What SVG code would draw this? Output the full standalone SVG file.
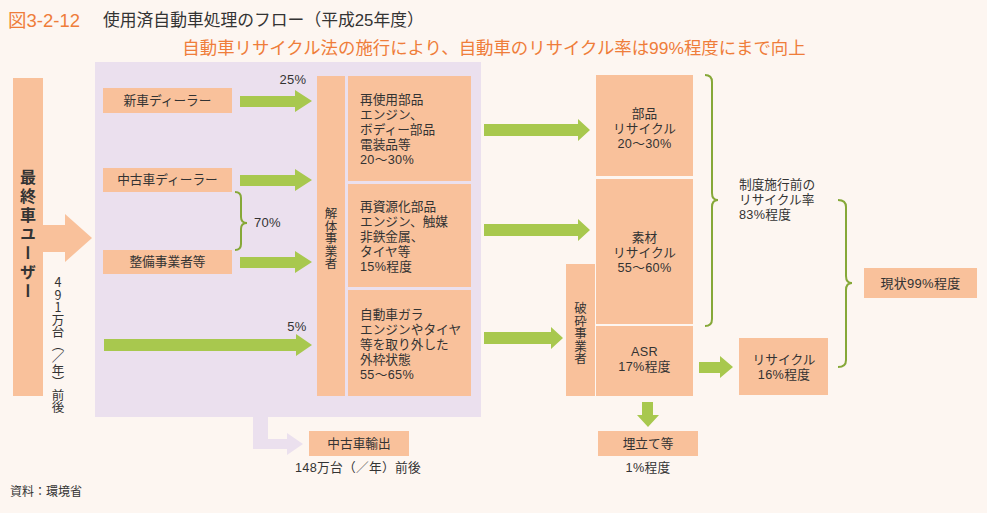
<svg xmlns="http://www.w3.org/2000/svg" width="987" height="513" viewBox="0 0 987 513">
<defs>
<style>
text{font-family:"Liberation Sans","Noto Sans CJK JP",sans-serif;fill:#333;font-size:12.7px;dominant-baseline:central}
.box{fill:#f9c19b}
.ga{fill:#a8c84e}
.pa{fill:#ebe0ee}
.br{fill:none;stroke:#86a838;stroke-width:2}
.c{text-anchor:middle}
.vt{writing-mode:vertical-rl;text-orientation:upright;font-family:"Noto Sans CJK JP",sans-serif}
.org{fill:#ef7d3a}
.n{letter-spacing:0.3px}
</style>
</defs>
<rect x="0" y="0" width="987" height="513" fill="#fdf6f1"/>
<g id="titles">
<text x="8" y="20" class="org" style="font-size:18.5px">図3-2-12</text>
<text x="103" y="20" style="font-size:16.8px">使用済自動車処理のフロー（平成25年度）</text>
<text x="494" y="48" class="org c" style="font-size:17.4px">自動車リサイクル法の施行により、自動車のリサイクル率は99%程度にまで向上</text>
<text x="10" y="492" style="font-size:12px">資料：環境省</text>
</g>
<rect class="pa" x="95" y="62" width="386" height="355"/>
<g id="connectors">
<path class="pa" d="M253,416 V449 H287 V455 L303,444 L287,433 V439 H268 V416 Z"/>
<path d="M43,225 H65 V214 L92,238 L65,262 V252 H43 Z" fill="#f9c19b"/>
<path class="ga" d="M240,96 H295 V90 L312,101 L295,112 V107 H240 Z"/>
<path class="ga" d="M240,175 H295 V169 L312,180 L295,191 V186 H240 Z"/>
<path class="ga" d="M240,257 H295 V251 L312,262 L295,273 V268 H240 Z"/>
<path class="ga" d="M104,339 H296 V334 L312,345 L296,356 V351 H104 Z"/>
<path class="ga" d="M484,124 H578 V119 L590,130 L578,141 V136 H484 Z"/>
<path class="ga" d="M484,224 H578 V219 L590,230 L578,241 V236 H484 Z"/>
<path class="ga" d="M484,332 H551 V327 L563,338 L551,349 V344 H484 Z"/>
<path class="ga" d="M699,362 H720 V356 L733,367 L720,378 V373 H699 Z"/>
<path class="ga" d="M642,402 H653 V415 H659 L648,427 L637,415 H642 Z"/>
<path class="br" d="M235,192 Q241,192 241,198 V217 Q241,223 247,223 Q241,223 241,229 V244 Q241,250 235,250"/>
<path class="br" d="M705,75 Q712,75 712,82 V193 Q712,200 718,200 Q712,200 712,207 V319 Q712,326 705,326"/>
<path class="br" d="M838,200 Q846,200 846,207 V276 Q846,283 852,283 Q846,283 846,290 V360 Q846,367 838,367"/>
</g>
<g id="user">
<rect class="box" x="13" y="78" width="30" height="318"/>
<text x="28" y="169" class="vt" style="font-size:16px;font-weight:bold;letter-spacing:3px">最終車ユーザー</text>
<text x="58" y="276" class="vt" style="font-size:12.5px">491万台（／年）前後</text>
</g>
<g id="newdealer"><rect class="box" x="103" y="88" width="129" height="25"/><text x="167.5" y="101" class="c">新車ディーラー</text></g>
<g id="useddealer"><rect class="box" x="103" y="168" width="129" height="24"/><text x="167.5" y="180" class="c">中古車ディーラー</text></g>
<g id="maint"><rect class="box" x="103" y="250" width="129" height="24"/><text x="167.5" y="262" class="c">整備事業者等</text></g>
<g id="labels">
<text x="293" y="79" class="c n" style="font-size:13px">25%</text>
<text x="297" y="326" class="c n" style="font-size:13px">5%</text>
<text x="254" y="222" class="n" style="font-size:13px">70%</text>
</g>
<g id="dismantler"><rect class="box" x="317" y="76" width="28" height="320"/><text x="331" y="207" class="vt" style="font-size:12.5px">解体事業者</text></g>
<g id="reuse"><rect class="box" x="348" y="76" width="123" height="105"/>
<text x="360" y="100"><tspan x="360" y="100">再使用部品</tspan><tspan x="360" y="115">エンジン、</tspan><tspan x="360" y="130">ボディー部品</tspan><tspan x="360" y="145">電装品等</tspan><tspan x="360" y="160" class="n">20〜30%</tspan></text></g>
<g id="resource"><rect class="box" x="348" y="184" width="123" height="103"/>
<text x="360" y="207"><tspan x="360" y="207">再資源化部品</tspan><tspan x="360" y="222">エンジン、触媒</tspan><tspan x="360" y="237">非鉄金属、</tspan><tspan x="360" y="252">タイヤ等</tspan><tspan x="360" y="267" class="n">15%程度</tspan></text></g>
<g id="body"><rect class="box" x="348" y="290" width="123" height="106"/>
<text x="360" y="315"><tspan x="360" y="315">自動車ガラ</tspan><tspan x="360" y="330">エンジンやタイヤ</tspan><tspan x="360" y="345">等を取り外した</tspan><tspan x="360" y="360">外枠状態</tspan><tspan x="360" y="375" class="n">55〜65%</tspan></text></g>
<g id="shredder"><rect class="box" x="566" y="264" width="29" height="132"/><text x="580.5" y="302" class="vt" style="font-size:12.5px">破砕事業者</text></g>
<g id="parts"><rect class="box" x="596" y="75" width="97" height="101"/>
<text class="c"><tspan x="644.5" y="114">部品</tspan><tspan x="644.5" y="129">リサイクル</tspan><tspan x="644.5" y="144" class="n">20〜30%</tspan></text></g>
<g id="material"><rect class="box" x="596" y="179" width="97" height="145"/>
<text class="c"><tspan x="644.5" y="238">素材</tspan><tspan x="644.5" y="253">リサイクル</tspan><tspan x="644.5" y="268" class="n">55〜60%</tspan></text></g>
<g id="asr"><rect class="box" x="596" y="326" width="97" height="70"/>
<text class="c"><tspan x="644.5" y="352" class="n">ASR</tspan><tspan x="644.5" y="367" class="n">17%程度</tspan></text></g>
<g id="before"><text><tspan x="739" y="185">制度施行前の</tspan><tspan x="739" y="200">リサイクル率</tspan><tspan x="739" y="215" class="n">83%程度</tspan></text></g>
<g id="recycle16"><rect class="box" x="739" y="338" width="89" height="57"/>
<text class="c"><tspan x="784" y="360">リサイクル</tspan><tspan x="784" y="375" class="n">16%程度</tspan></text></g>
<g id="current"><rect class="box" x="864" y="268" width="113" height="30"/><text x="920.5" y="283" class="c n" style="font-size:13px">現状99%程度</text></g>
<g id="landfill"><rect class="box" x="598" y="431" width="100" height="25"/><text x="648" y="443.5" class="c">埋立て等</text></g>
<g id="landfillnote"><text x="648" y="468" class="c n">1%程度</text></g>
<g id="export"><rect class="box" x="309" y="431" width="100" height="25"/><text x="359" y="443.5" class="c">中古車輸出</text></g>
<g id="exportnote"><text x="358" y="468" class="c n">148万台（／年）前後</text></g>
</svg>
